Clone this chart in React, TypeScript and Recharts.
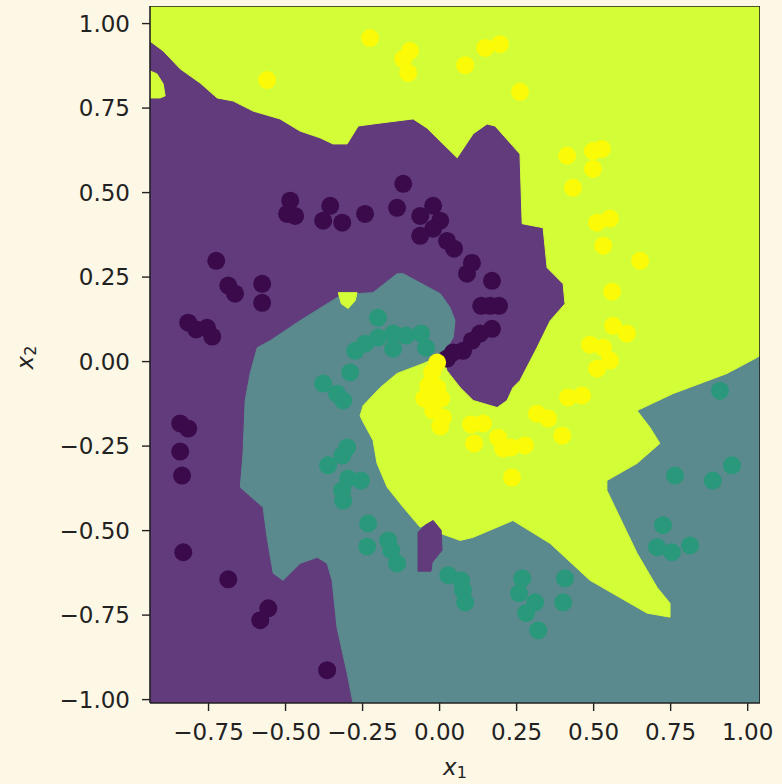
import React from 'react';
import { ScatterChart, Scatter, XAxis, YAxis, Label } from 'recharts';

// ---------- axes ----------
const X_DOMAIN: [number, number] = [-0.94, 1.04];
const Y_DOMAIN: [number, number] = [-1.01, 1.052];
const X_TICKS = [-0.75, -0.5, -0.25, 0, 0.25, 0.5, 0.75, 1];
const Y_TICKS = [-1, -0.75, -0.5, -0.25, 0, 0.25, 0.5, 0.75, 1];

// ---------- decision regions (data coordinates) ----------
const plotCorners: [number, number][] = [[-0.94, -1.01], [1.04, -1.01], [1.04, 1.052], [-0.94, 1.052]];

// boundary between the yellow class region and the teal class region, right edge -> centre
const yellowTealBoundary: [number, number][] = [
  [1.04, 0.018], [1.03, 0.012], [0.933, -0.035], [0.757, -0.095], [0.641, -0.145], [0.683, -0.195],
  [0.715, -0.242], [0.641, -0.301], [0.543, -0.352], [0.543, -0.381], [0.641, -0.567], [0.706, -0.668],
  [0.748, -0.715], [0.748, -0.756], [0.673, -0.744], [0.488, -0.647], [0.359, -0.538], [0.238, -0.47],
  [0.109, -0.52], [0.067, -0.529], [0.002, -0.508], [-0.021, -0.47], [-0.063, -0.49], [-0.118, -0.431],
  [-0.17, -0.372], [-0.203, -0.301], [-0.216, -0.233], [-0.251, -0.174], [-0.258, -0.16], [-0.248, -0.13],
  [-0.193, -0.077], [-0.138, -0.035], [-0.054, -0.006], [-0.008, 0.012], [0.011, 0.009],
];

// outer edge of the teal arm, centre -> bottom axis
const tealArmOuter: [number, number][] = [
  [0.024, 0.041], [0.044, 0.071], [0.05, 0.121], [0.034, 0.16], [0.002, 0.201], [-0.118, 0.26],
  [-0.138, 0.26], [-0.216, 0.204], [-0.268, 0.201], [-0.323, 0.195], [-0.453, 0.121], [-0.55, 0.062],
  [-0.592, 0.041], [-0.615, -0.035], [-0.631, -0.115], [-0.638, -0.272], [-0.647, -0.372], [-0.573, -0.431],
  [-0.56, -0.52], [-0.54, -0.626], [-0.508, -0.647], [-0.453, -0.597], [-0.397, -0.579], [-0.365, -0.597],
  [-0.349, -0.647], [-0.333, -0.786], [-0.3, -0.922], [-0.281, -1.01],
];

// boundary between the purple class region and the yellow class region, centre -> left edge
const purpleYellowBoundary: [number, number][] = [
  [0.024, -0.027], [0.067, -0.077], [0.109, -0.115], [0.187, -0.136], [0.219, -0.115], [0.238, -0.077],
  [0.261, -0.056], [0.316, 0.041], [0.359, 0.121], [0.407, 0.171], [0.401, 0.23], [0.349, 0.278],
  [0.336, 0.396], [0.268, 0.408], [0.261, 0.614], [0.18, 0.697], [0.154, 0.703], [0.109, 0.674],
  [0.057, 0.603], [-0.041, 0.691], [-0.086, 0.718], [-0.216, 0.703], [-0.264, 0.697], [-0.3, 0.644],
  [-0.346, 0.644], [-0.388, 0.662], [-0.453, 0.682], [-0.518, 0.718], [-0.605, 0.741], [-0.67, 0.771],
  [-0.722, 0.78], [-0.777, 0.824], [-0.842, 0.866], [-0.897, 0.919], [-0.94, 0.948],
];

const yellowLeftBlob: [number, number][] = [[-0.94, 0.86], [-0.917, 0.851], [-0.897, 0.821], [-0.891, 0.786], [-0.907, 0.78], [-0.94, 0.78]];
const yellowSmallBlob: [number, number][] = [[-0.329, 0.204], [-0.268, 0.204], [-0.274, 0.18], [-0.297, 0.157], [-0.319, 0.171]];
const purpleSliver: [number, number][] = [[-0.07, -0.505], [-0.047, -0.484], [-0.021, -0.47], [0.005, -0.499], [0.008, -0.558], [-0.024, -0.594], [-0.028, -0.62], [-0.07, -0.62]];

const tealRegion: [number, number][] = [[-0.281, -1.01], [1.04, -1.01], ...yellowTealBoundary, ...tealArmOuter];
const yellowRegion: [number, number][] = [[-0.94, 1.052], [1.04, 1.052], ...yellowTealBoundary, ...purpleYellowBoundary];

// ---------- training points ----------
const class0Points: [number, number][] = [
  [-0.118, 0.526], [-0.485, 0.476], [-0.495, 0.437], [-0.469, 0.431], [-0.355, 0.461], [-0.378, 0.417],
  [-0.316, 0.411], [-0.242, 0.437], [-0.138, 0.455], [-0.063, 0.431], [-0.021, 0.461], [0.002, 0.417],
  [-0.021, 0.393], [-0.063, 0.372], [0.024, 0.357], [0.047, 0.334], [0.105, 0.292], [0.089, 0.26],
  [0.17, 0.239], [0.135, 0.165], [0.164, 0.165], [0.193, 0.165], [0.17, 0.097], [0.131, 0.083],
  [0.105, 0.062], [0.076, 0.032], [0.044, 0.027], [0.024, 0.009], [-0.725, 0.298], [-0.686, 0.225],
  [-0.664, 0.201], [-0.576, 0.23], [-0.576, 0.174], [-0.816, 0.115], [-0.79, 0.095], [-0.755, 0.1],
  [-0.738, 0.074], [-0.842, -0.183], [-0.816, -0.198], [-0.842, -0.266], [-0.836, -0.337], [-0.832, -0.564],
  [-0.686, -0.644], [-0.556, -0.73], [-0.582, -0.765], [-0.365, -0.913],
];
const class1Points: [number, number][] = [
  [-0.2, 0.13], [-0.274, 0.032], [-0.242, 0.053], [-0.2, 0.071], [-0.151, 0.083], [-0.109, 0.077],
  [-0.06, 0.083], [-0.044, 0.041], [-0.151, 0.038], [-0.29, -0.032], [-0.378, -0.065], [-0.333, -0.095],
  [-0.313, -0.115], [-0.3, -0.254], [-0.316, -0.278], [-0.362, -0.307], [-0.297, -0.346], [-0.255, -0.352],
  [-0.316, -0.381], [-0.313, -0.411], [-0.232, -0.479], [-0.235, -0.547], [-0.167, -0.529], [-0.157, -0.558],
  [-0.138, -0.597], [0.028, -0.632], [0.07, -0.647], [0.076, -0.677], [0.083, -0.712], [0.268, -0.641],
  [0.258, -0.685], [0.31, -0.712], [0.281, -0.744], [0.32, -0.795], [0.407, -0.641], [0.401, -0.712],
  [0.91, -0.086], [0.949, -0.307], [0.887, -0.352], [0.764, -0.337], [0.725, -0.484], [0.706, -0.549],
  [0.754, -0.564], [0.813, -0.544],
];
const class2Points: [number, number][] = [
  [-0.226, 0.957], [-0.096, 0.919], [-0.118, 0.895], [-0.102, 0.854], [-0.56, 0.833], [0.083, 0.877],
  [0.148, 0.928], [0.196, 0.939], [0.261, 0.798], [0.414, 0.609], [0.498, 0.623], [0.527, 0.629],
  [0.498, 0.57], [0.433, 0.514], [0.511, 0.411], [0.553, 0.423], [0.531, 0.343], [0.651, 0.298],
  [0.56, 0.207], [0.563, 0.106], [0.608, 0.083], [0.488, 0.05], [0.531, 0.041], [0.553, 0.003],
  [0.511, -0.021], [-0.008, -0.003], [-0.024, -0.032], [-0.037, -0.071], [-0.008, -0.077], [-0.05, -0.109],
  [0.005, -0.109], [-0.021, -0.145], [0.011, -0.166], [0.002, -0.192], [0.102, -0.186], [0.141, -0.183],
  [0.112, -0.242], [0.19, -0.225], [0.206, -0.257], [0.232, -0.254], [0.277, -0.248], [0.235, -0.343],
  [0.316, -0.154], [0.352, -0.168], [0.398, -0.219], [0.417, -0.106], [0.462, -0.1],
];

// ---------- styles ----------
const BG = '#fdf7e5';
const REGION_PURPLE = '#613b7c';
const REGION_TEAL = '#5a8a8d';
const REGION_YELLOW = '#d3fd36';
const PT_PURPLE = '#3a0a4a';
const PT_TEAL = '#2a987b';
const PT_YELLOW = '#fbfb08';
const INK = '#222222';
const FONT = 'DejaVu Sans';

const toObjs = (arr: [number, number][]) => arr.map(([x, y]) => ({ x, y }));

const polyLine = (color: string) => (props: any) => {
  const pts = (props && props.points) || [];
  if (!pts.length) return <g />;
  const d = pts.map((p: any, i: number) => `${i ? 'L' : 'M'}${p.x},${p.y}`).join('') + 'Z';
  return <path d={d} fill={color} stroke={color} strokeWidth={1} strokeLinejoin="round" />;
};
const frameLine = (props: any) => {
  const pts = (props && props.points) || [];
  if (!pts.length) return <g />;
  const d = pts.map((p: any, i: number) => `${i ? 'L' : 'M'}${p.x},${p.y}`).join('') + 'Z';
  return <path d={d} fill="none" stroke={INK} strokeWidth={1.6} />;
};
const noShape = () => <g />;
const dot = (color: string) => (props: any) => <circle cx={props.cx} cy={props.cy} r={9} fill={color} />;

const fmt = (v: number) => (v < 0 ? '\u2212' : '') + Math.abs(v).toFixed(2);

const XLabel = (props: any) => {
  const vb = props.viewBox || {};
  const cx = vb.x + vb.width / 2;
  return (
    <text x={cx} y={775} textAnchor="middle" fontFamily={FONT} fontSize={23} fill={INK}>
      <tspan fontStyle="italic">x</tspan>
      <tspan fontSize={16} dy={3}>1</tspan>
    </text>
  );
};
const YLabel = (props: any) => {
  const vb = props.viewBox || {};
  const cy = vb.y + vb.height / 2;
  return (
    <text x={0} y={0} transform={`translate(33, ${cy + 3}) rotate(-90)`} textAnchor="middle" fontFamily={FONT} fontSize={23} fill={INK}>
      <tspan fontStyle="italic">x</tspan>
      <tspan fontSize={16} dy={3}>2</tspan>
    </text>
  );
};

const tickStyle = { fontFamily: FONT, fontSize: 23, fill: INK };
const axisLineStyle = { stroke: INK, strokeWidth: 1.6 };

export default function App() {
  return (
    <div style={{ position: 'absolute', left: 0, top: 0, width: 782, height: 784, background: BG }}>
      <ScatterChart width={782} height={784} margin={{ top: 6, right: 22, bottom: 31, left: 90 }}>
        <XAxis
          type="number"
          dataKey="x"
          domain={X_DOMAIN}
          allowDataOverflow
          ticks={X_TICKS}
          tickFormatter={fmt}
          height={50}
          tickSize={8}
          tickMargin={13}
          tick={tickStyle}
          tickLine={{ stroke: INK, strokeWidth: 1.4 }}
          axisLine={axisLineStyle}
          interval={0}
        >
          <Label content={XLabel} />
        </XAxis>
        <YAxis
          type="number"
          dataKey="y"
          domain={Y_DOMAIN}
          allowDataOverflow
          ticks={Y_TICKS}
          tickFormatter={fmt}
          width={60}
          tickSize={8}
          tickMargin={12}
          tick={tickStyle}
          tickLine={{ stroke: INK, strokeWidth: 1.4 }}
          axisLine={axisLineStyle}
          interval={0}
        >
          <Label content={YLabel} />
        </YAxis>

        <Scatter data={toObjs(plotCorners)} shape={noShape} line={polyLine(REGION_PURPLE)} isAnimationActive={false} />
        <Scatter data={toObjs(tealRegion)} shape={noShape} line={polyLine(REGION_TEAL)} isAnimationActive={false} />
        <Scatter data={toObjs(yellowRegion)} shape={noShape} line={polyLine(REGION_YELLOW)} isAnimationActive={false} />
        <Scatter data={toObjs(yellowLeftBlob)} shape={noShape} line={polyLine(REGION_YELLOW)} isAnimationActive={false} />
        <Scatter data={toObjs(yellowSmallBlob)} shape={noShape} line={polyLine(REGION_YELLOW)} isAnimationActive={false} />
        <Scatter data={toObjs(purpleSliver)} shape={noShape} line={polyLine(REGION_PURPLE)} isAnimationActive={false} />

        <Scatter data={toObjs(class0Points)} shape={dot(PT_PURPLE)} isAnimationActive={false} />
        <Scatter data={toObjs(class1Points)} shape={dot(PT_TEAL)} isAnimationActive={false} />
        <Scatter data={toObjs(class2Points)} shape={dot(PT_YELLOW)} isAnimationActive={false} />

        <Scatter data={toObjs(plotCorners)} shape={noShape} line={frameLine} isAnimationActive={false} />
      </ScatterChart>
    </div>
  );
}
